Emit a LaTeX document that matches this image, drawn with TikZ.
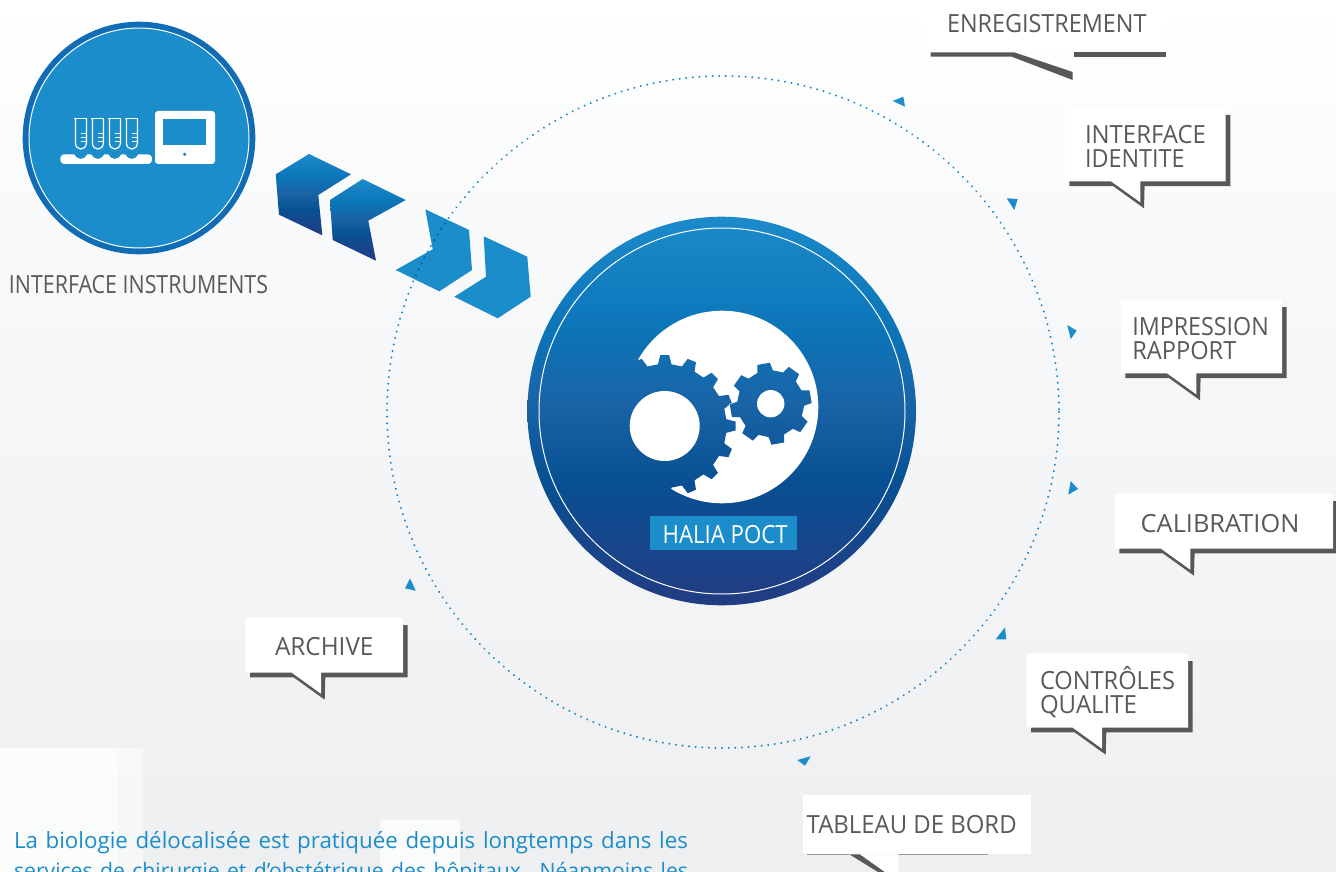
\documentclass[tikz,border=0pt]{standalone}
\usepackage{fontspec}
\usepackage{graphicx}
\setmainfont{Open Sans}
\definecolor{gA}{HTML}{213C82}
\definecolor{gB}{HTML}{17468C}
\definecolor{gC}{HTML}{075092}
\definecolor{gD}{HTML}{1A64A8}
\definecolor{gE}{HTML}{0B75B8}
\definecolor{gF}{HTML}{1C8ACB}
\definecolor{sky}{HTML}{1C8DCB}
\definecolor{ringblue}{HTML}{0F6CB5}
\definecolor{inkgrey}{HTML}{58595B}
\definecolor{shadowgrey}{HTML}{58585A}
\definecolor{bgA}{HTML}{FFFFFF}
\definecolor{bgB}{HTML}{F7F8F9}
\definecolor{bgC}{HTML}{F2F3F4}
\definecolor{bgD}{HTML}{EEEFF0}
\definecolor{patchwhite}{HTML}{FAFBFB}
\pgfdeclareverticalshading{bigblue}{100bp}{color(0bp)=(gA);color(25bp)=(gA);color(33.4bp)=(gB);color(41bp)=(gC);color(51.5bp)=(gD);color(60.5bp)=(gE);color(75bp)=(gF);color(100bp)=(gF)}
\pgfdeclareverticalshading{pagebg}{100bp}{color(0bp)=(bgD);color(25bp)=(bgD);color(40bp)=(bgC);color(58bp)=(bgB);color(75bp)=(bgA);color(100bp)=(bgA)}
\newcommand{\fitw}[2]{\resizebox{#1pt}{\height}{#2}}
\newcommand{\labelfont}{\fontsize{25}{25}\selectfont}
% x1,y1,x2,y2
\newcommand{\calloutshape}[4]{%
  \fill[shadowgrey] ({#3},{#2+7.5}) -- ({#3+4.7},{#2+7.5}) -- ({#3+4.7},{#4+4.7}) -- ({#1+79.6},{#4+4.7}) -- ({#1+79},{#4+27}) -- ({#1+48},{#4+4.7}) -- ({#1+4.3},{#4+4.7}) -- ({#1+4.3},{#4}) -- cycle;
  \fill[white] (#1,#2) -- (#3,#2) -- (#3,#4) -- ({#1+75.3},#4) -- ({#1+75.3},{#4+21}) -- ({#1+46},#4) -- (#1,#4) -- cycle;
}
% cx,cy,n,rtip,rroot,halftip,halfroot,offset
\newcommand{\gearoutline}[8]{%
  ({#1+#5*cos(#8-#7)},{#2-#5*sin(#8-#7)})
  \foreach \i [evaluate=\i as \a using #8-360*\i/#3] in {0,...,#3} {
    -- ({#1+#5*cos(\a+#7)},{#2-#5*sin(\a+#7)})
    -- ({#1+#4*cos(\a+#6)},{#2-#4*sin(\a+#6)})
    -- ({#1+#4*cos(\a-#6)},{#2-#4*sin(\a-#6)})
    -- ({#1+#5*cos(\a-#7)},{#2-#5*sin(\a-#7)})
  } -- cycle
}
\tikzset{
  lab/.style={inner sep=0pt,outer sep=0pt,anchor=base west,text=inkgrey,font=\labelfont,yshift=-0.6pt},
  marker/.style={fill=sky},
  flatchev/.style={fill=sky},
  gradchev/.style={shading=bigblue},
  bodytext/.style={lab,text=sky,font=\fontsize{22.3}{22.3}\selectfont},
}
\begin{document}
\begin{tikzpicture}[x=1pt,y=-1pt]
\useasboundingbox (0,0) rectangle (1336,872);
% background
\path[shading=pagebg] (0,0) rectangle (1336,872);
\fill[patchwhite] (0,748) rectangle (118,872);
\fill[patchwhite,opacity=.7] (118,748) rectangle (143,872);
\fill[patchwhite] (380,820) rectangle (460,872);
% chevrons
\path[gradchev] (309,154) -- (351,174.3) -- (318.3,195) -- (322.3,235.3) -- (279,214.7) -- (275.7,174.3) -- cycle;
\path[gradchev] (362.7,179) -- (405.7,200) -- (368.3,220.7) -- (376,260.7) -- (332.7,240) -- (330,200) -- cycle;
\fill[flatchev] (425.3,209.3) -- (469,230) -- (472,270) -- (439.3,291.3) -- (395.7,270) -- (432.7,249.3) -- cycle;
\fill[flatchev] (483.7,236.3) -- (527.3,256.7) -- (530.7,296.7) -- (497.7,318.3) -- (454.3,296.7) -- (486,276.7) -- cycle;
% dotted orbit
\begin{scope}[blend mode=multiply]
\draw[gF,line width=2.2pt,line cap=round,dash pattern=on 0.01pt off 6.6pt] (723,412) circle[radius=336];
\end{scope}
% markers
\fill[marker] (892.7,101) -- (903.3,96.7) -- (905,106.7) -- cycle;
\fill[marker] (1006.7,198.3) -- (1017.7,199) -- (1014.3,210) -- cycle;
\fill[marker] (1067.3,325) -- (1076.7,330.7) -- (1070.7,339) -- cycle;
\fill[marker] (1070.7,481) -- (1078,489) -- (1068.3,494.7) -- cycle;
\fill[marker] (1005,627.3) -- (1006.3,639.3) -- (995.7,639.3) -- cycle;
\fill[marker] (797.3,760) -- (810.7,756.3) -- (805,765.7) -- cycle;
\fill[marker] (410,578.3) -- (405,588.3) -- (415.7,590.7) -- cycle;
% instrument disc
\fill[ringblue] (139,138) circle[radius=116.3];
\fill[sky] (139,138) circle[radius=110];
\draw[white,line width=1pt] (139,138) circle[radius=110];
\foreach \dx in {0,17,34,51} {
  \begin{scope}[xshift=\dx pt]
  \draw[white,line width=1.2pt] (74.4,118.6) -- (87.4,118.6);
  \draw[white,line width=1.2pt] (75.4,118.6) -- (75.4,142.5) .. controls (75.4,151.3) and (86.4,151.3) .. (86.4,142.5) -- (86.4,118.6);
  \draw[white,line width=1pt] (81.4,133.3) -- (86,133.3) (81.4,137.3) -- (86,137.3) (81.4,141.3) -- (86,141.3);
  \end{scope}
}
\fill[white,rounded corners=4pt] (60.3,154.3) rectangle (152,164);
\foreach \cx in {80.8,97.8,114.8,131.8} {
  \fill[sky] ({\cx-6.5},154) .. controls ({\cx-3},160.5) and ({\cx+3},160.5) .. ({\cx+6.5},154) -- cycle;
}
\fill[white,rounded corners=3pt] (155,111) rectangle (215,164);
\fill[sky] (163.3,119.3) rectangle (206,144.7);
\fill[sky] (184.7,154.3) circle[radius=1.8];
% central disc
\path[shading=bigblue] (721.7,411) circle[radius=194.3];
\draw[white,line width=1pt] (722,411) circle[radius=183];
\fill[white] (722,407) circle[radius=96.3];
\begin{scope}
  \clip \gearoutline{664.7}{426}{16}{71}{62}{3.6}{6.3}{90};
  \path[shading=bigblue] (721.7,411) circle[radius=194.3];
\end{scope}
\begin{scope}
  \clip (638,359) -- (590,359) -- (590,490) -- (664,490) -- (664.7,426) -- cycle;
  \path[shading=bigblue] (721.7,411) circle[radius=194.3];
\end{scope}
\draw[white,line width=1pt] \gearoutline{770.7}{403.7}{8}{41}{33.5}{9}{13.5}{100};
\begin{scope}
  \clip \gearoutline{770.7}{403.7}{8}{41}{33.5}{9}{13.5}{100};
  \path[shading=bigblue] (721.7,411) circle[radius=194.3];
\end{scope}
\fill[white] (664.7,426) circle[radius=35];
\fill[white] (770.7,403.7) circle[radius=13.7];
\fill[sky] (650,516) rectangle (796.7,550);
\node[lab,text=white,yshift=-1pt] (halia) at (662.7,541.7) {\fitw{125}{HALIA POCT}};
% callouts
\fill[white] (926,0) rectangle (1162,52.3);
\fill[shadowgrey] (930.7,52.3) -- (1014,52.3) -- (1072.7,72) -- (1072.7,80) -- (1011.7,56.7) -- (930.7,56.7) -- cycle;
\fill[shadowgrey] (1073.7,52.3) rectangle (1166.3,56.7);
\node[lab] (enreg) at (947,31.7) {\fitw{199.5}{ENREGISTREMENT}};
\calloutshape{1065}{107.3}{1225.7}{181.3}
\node[lab] (ident1) at (1085,142.7) {\fitw{121}{INTERFACE}};
\node[lab] (ident2) at (1085,166.7) {\fitw{99.5}{IDENTITE}};
\calloutshape{1121}{299.7}{1282}{373.3}
\node[lab] (impr1) at (1132.3,334.7) {\fitw{136.5}{IMPRESSION}};
\node[lab] (impr2) at (1132.3,358.7) {\fitw{104}{RAPPORT}};
\calloutshape{1115}{493.7}{1333}{548.7}
\node[lab] (calib) at (1140.7,532) {\fitw{158.7}{CALIBRATION}};
\calloutshape{1026.7}{653.7}{1188}{727.7}
\node[lab] (ctrl1) at (1040,688.7) {\fitw{135}{CONTRÔLES}};
\node[lab] (ctrl2) at (1040,712.7) {\fitw{97}{QUALITE}};
\calloutshape{245.7}{617.7}{403}{672.7}
\node[lab] (arch) at (275,655) {\fitw{98.5}{ARCHIVE}};
% tableau de bord (cut by the page)
\fill[shadowgrey] (849.3,854.3) -- (860,854.3) -- (885,872) -- (878,872) -- cycle;
\draw[black!40,line width=.8pt] (807.3,854.8) -- (849.3,854.8) (898.3,854.8) -- (988,854.8);
\fill[white] (803,795) rectangle (1031,854.3);
\fill[white] (860,854.3) -- (898.3,854.3) -- (898.3,872) -- (885,872) -- cycle;
\node[lab] (tdb) at (806.7,832.7) {\fitw{210}{TABLEAU DE BORD}};
\node[lab] (instr) at (9,293.3) {\fitw{259}{INTERFACE INSTRUMENTS}};
% paragraph
\node[bodytext] (para1) at (14,848.3) {\makebox[674pt][s]{La biologie délocalisée est pratiquée depuis longtemps dans les}};
\node[bodytext,font=\fontsize{21.2}{21.2}\selectfont] (para2) at (14,878) {\makebox[674pt][s]{services de chirurgie et d’obstétrique des hôpitaux. Néanmoins les}};
\end{tikzpicture}
\end{document}
